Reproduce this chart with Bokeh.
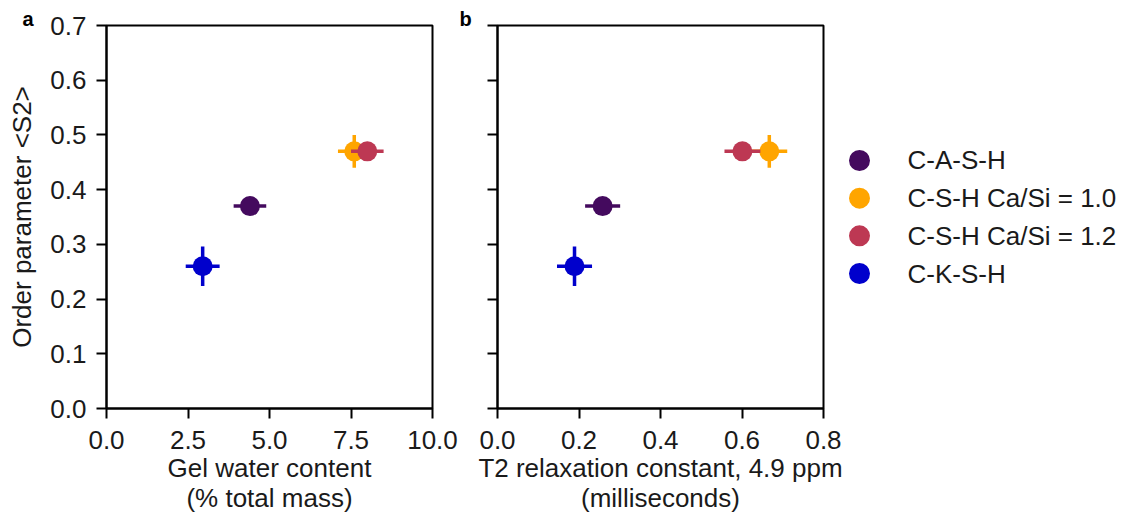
from bokeh.plotting import figure
from bokeh.layouts import row
from bokeh.models import (ColumnDataSource, Range1d, FixedTicker, NumeralTickFormatter,
                          CustomJSTickFormatter, FactorRange)
from bokeh.core.properties import value
from bokeh.embed import file_html
from bokeh.resources import INLINE

# ---------------- data ----------------
categories = ["C-A-S-H", "C-S-H Ca/Si = 1.0", "C-S-H Ca/Si = 1.2", "C-K-S-H"]
colors = ["#440a5e", "#ffa500", "#bd3853", "#0000cc"]

order_param = [0.37, 0.47, 0.47, 0.26]
order_param_err = [0.01, 0.03, 0.01, 0.036]

gel_water = [4.4, 7.6, 8.0, 2.95]
gel_water_err = [0.5, 0.5, 0.5, 0.52]

t2_relax = [0.258, 0.667, 0.601, 0.189]
t2_relax_err = [0.043, 0.044, 0.044, 0.043]

y_ticks = [0.0, 0.1, 0.2, 0.3, 0.4, 0.5, 0.6, 0.7]
xa_ticks = [0.0, 2.5, 5.0, 7.5, 10.0]
xb_ticks = [0.0, 0.2, 0.4, 0.6, 0.8]

FONT = "Liberation Sans"
TXT = "#1a1a1a"
FS = "26px"


def style(p, xticks, letter, letter_offset):
    p.toolbar_location = None
    p.grid.visible = False
    p.outline_line_color = "black"
    p.outline_line_width = 2
    p.background_fill_color = "white"
    p.border_fill_color = "white"
    for ax in [p.xaxis[0], p.yaxis[0]]:
        ax.axis_line_width = 2
        ax.axis_line_color = "black"
        ax.major_tick_line_width = 2
        ax.major_tick_line_color = "black"
        ax.major_tick_out = 10
        ax.major_tick_in = 0
        ax.minor_tick_out = 0
        ax.minor_tick_in = 0
        ax.major_label_text_font = FONT
        ax.major_label_text_font_size = FS
        ax.major_label_text_color = TXT
        ax.axis_label_text_font = FONT
        ax.axis_label_text_font_size = FS
        ax.axis_label_text_font_style = "normal"
        ax.axis_label_text_color = TXT
        ax.axis_label_text_line_height = 1.0
    p.xaxis.ticker = FixedTicker(ticks=xticks)
    p.yaxis.ticker = FixedTicker(ticks=y_ticks)
    p.xaxis.formatter = NumeralTickFormatter(format="0.0")
    p.xaxis.major_label_standoff = 12
    p.xaxis.axis_label_standoff = 1
    p.yaxis.major_label_standoff = 10
    p.yaxis.axis_label_standoff = 10
    p.title.text = letter
    p.title.text_font = FONT
    p.title.text_font_size = "20px"
    p.title.text_font_style = "bold"
    p.title.text_color = "black"
    p.title.align = "left"
    p.title.offset = letter_offset
    p.title.standoff = -9


def draw_points(p, xs, xerr):
    for i, name in enumerate(categories):
        src = ColumnDataSource(dict(
            x=[xs[i]], y=[order_param[i]],
            xl=[xs[i] - xerr[i]], xr=[xs[i] + xerr[i]],
            yl=[order_param[i] - order_param_err[i]], yh=[order_param[i] + order_param_err[i]],
        ))
        p.segment(x0="xl", y0="y", x1="xr", y1="y", source=src,
                  line_color=colors[i], line_width=3.5)
        p.segment(x0="x", y0="yl", x1="x", y1="yh", source=src,
                  line_color=colors[i], line_width=3.5)
        p.scatter(x="x", y="y", source=src, size=20, marker="circle",
                  fill_color=colors[i], line_color=None)


BORDERS = dict(min_border_top=25, min_border_bottom=107)

# ---------------- panel a ----------------
p1 = figure(width=458, height=515, output_backend="svg", toolbar_location=None,
            x_range=Range1d(0, 10), y_range=Range1d(0, 0.7),
            min_border_left=106, min_border_right=26, **BORDERS)
style(p1, xa_ticks, "a", -84)
p1.yaxis.formatter = NumeralTickFormatter(format="0.0")
p1.xaxis.axis_label = "Gel water content\n(% total mass)"
p1.yaxis.axis_label = "Order parameter <S2>"
draw_points(p1, gel_water, gel_water_err)

# ---------------- panel b ----------------
p2 = figure(width=385, height=515, output_backend="svg", toolbar_location=None,
            x_range=Range1d(0, 0.8), y_range=Range1d(0, 0.7),
            min_border_left=39, min_border_right=20, **BORDERS)
style(p2, xb_ticks, "b", -38)
p2.yaxis.formatter = CustomJSTickFormatter(code="return ''")
p2.yaxis.major_label_standoff = 0
p2.xaxis.axis_label = "T2 relaxation constant, 4.9 ppm\n(milliseconds)"
draw_points(p2, t2_relax, t2_relax_err)

# ---------------- legend ----------------
p3 = figure(width=278, height=515, output_backend="svg", toolbar_location=None,
            x_range=Range1d(-16, 262),
            y_range=FactorRange(factors=categories[::-1], range_padding=3.08,
                                range_padding_units="absolute"),
            min_border_left=0, min_border_right=0, **BORDERS)
p3.axis.visible = False
p3.grid.visible = False
p3.outline_line_color = None
leg = ColumnDataSource(dict(name=categories, color=colors, x=[0] * len(categories)))
p3.scatter(x="x", y="name", source=leg, size=21, marker="circle",
           fill_color="color", line_color=None)
p3.text(x="x", y="name", text="name", source=leg, x_offset=48,
        text_font=value(FONT), text_font_size=FS, text_color=TXT,
        text_baseline="middle", text_align="left")

layout = row(p1, p2, p3)
open("out.html", "w").write(file_html(layout, INLINE))
